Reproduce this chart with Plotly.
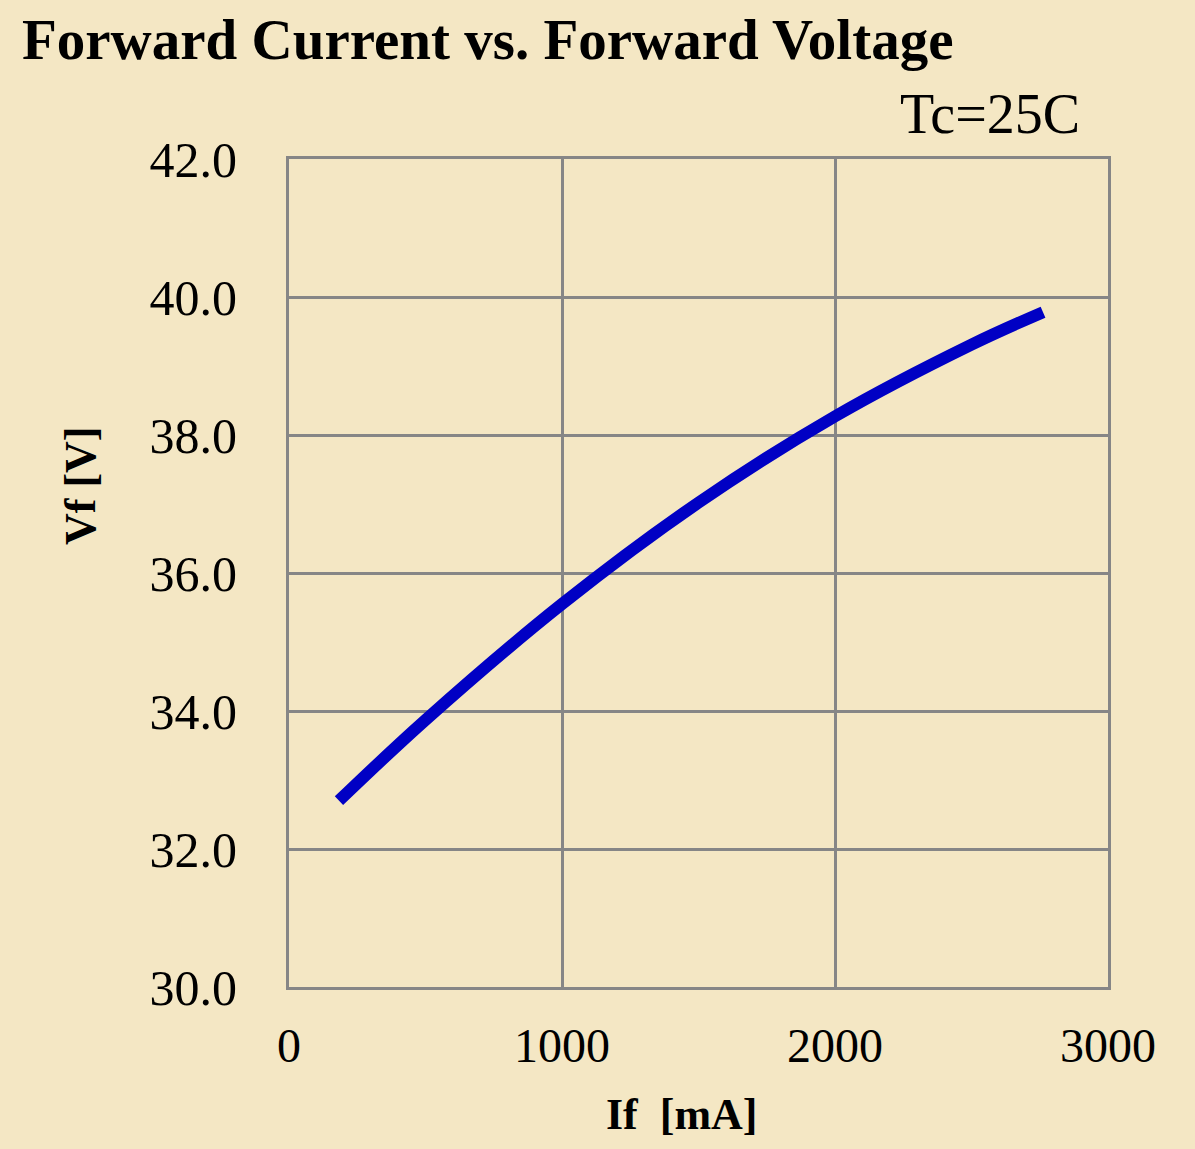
import plotly.graph_objects as go

# Data
if_ma = [183, 500, 1000, 1500, 2000, 2500, 2762]
vf_v = [32.70, 33.87, 35.55, 37.02, 38.27, 39.31, 39.78]

x_ticks = [0, 1000, 2000, 3000]
y_ticks = [30, 32, 34, 36, 38, 40, 42]
y_tick_labels = ["30.0", "32.0", "34.0", "36.0", "38.0", "40.0", "42.0"]

title_text = "Forward Current vs. Forward Voltage"
cond_text = "Tc=25C"
x_title = "If  [mA]"
y_title = "Vf [V]"

BG = "#F4E7C4"
GRID = "#868686"
FONT = "Liberation Serif"

fig = go.Figure()
fig.add_trace(go.Scatter(
    x=if_ma, y=vf_v, mode="lines",
    line=dict(color="#0000C4", width=12, shape="spline"),
    showlegend=False, hoverinfo="skip",
))

fig.update_layout(
    width=1195, height=1149,
    paper_bgcolor=BG, plot_bgcolor=BG,
    margin=dict(l=289, r=87, t=159, b=162),
    font=dict(family=FONT, color="black", size=48),
    showlegend=False,
)

fig.update_xaxes(
    range=[0, 3000], tickvals=x_ticks,
    showgrid=True, gridcolor=GRID, gridwidth=3,
    showline=True, linecolor=GRID, linewidth=3, mirror=True,
    zeroline=False, ticks="", ticklabelstandoff=14,
    tickfont=dict(family=FONT, size=48, color="black"),
)
fig.update_yaxes(
    range=[30, 42], tickvals=y_ticks, ticktext=y_tick_labels,
    showgrid=True, gridcolor=GRID, gridwidth=3,
    showline=True, linecolor=GRID, linewidth=3, mirror=True,
    zeroline=False, ticks="", ticklabelstandoff=39,
    tickfont=dict(family=FONT, size=50, color="black"),
)

fig.add_annotation(
    text="<b>" + title_text + "</b>", xref="paper", yref="paper",
    x=-289 / 819, y=1 + 159 / 828, xanchor="left", yanchor="top",
    xshift=20, yshift=-6, showarrow=False,
    font=dict(family=FONT, size=57, color="black"),
)
fig.add_annotation(
    text=cond_text, xref="paper", yref="paper",
    x=1 - 26 / 819, y=1 + 159 / 828, xanchor="right", yanchor="top",
    yshift=-81, showarrow=False,
    font=dict(family=FONT, size=56, color="black"),
)
fig.add_annotation(
    text="<b>" + x_title + "</b>", xref="paper", yref="paper",
    x=(682 - 289) / 819, y=0, xanchor="center", yanchor="middle",
    yshift=-(1114 - 987), showarrow=False,
    font=dict(family=FONT, size=44, color="black"),
)
fig.add_annotation(
    text="<b>" + y_title + "</b>", xref="paper", yref="paper",
    x=0, y=(987 - 486) / 828, xanchor="center", yanchor="middle",
    xshift=-(289 - 80), textangle=-90, showarrow=False,
    font=dict(family=FONT, size=44, color="black"),
)

fig.write_html(
    "out.html",
    config={"displayModeBar": False},
    post_script="document.body.style.margin='0';document.body.style.background='" + BG + "';",
)
